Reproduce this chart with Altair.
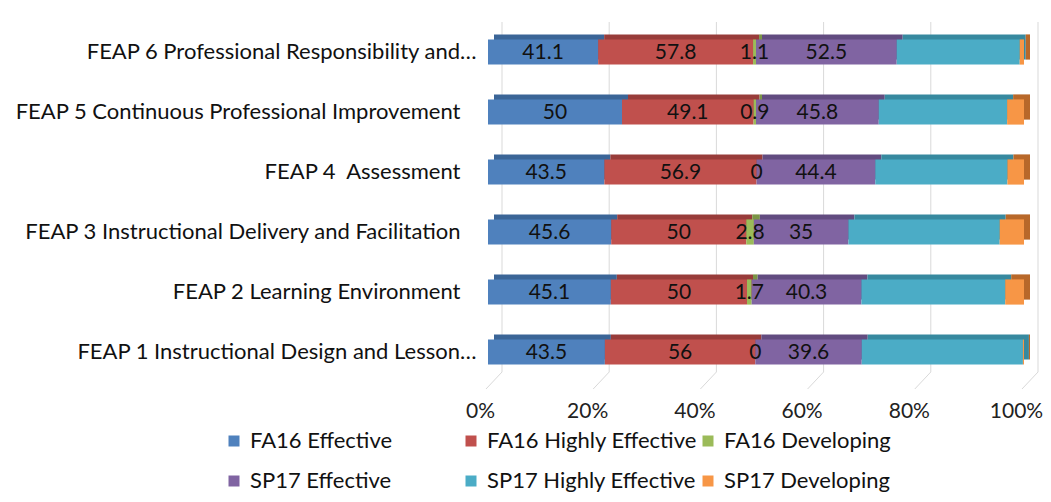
import altair as alt
import pandas as pd

categories = [
    "FEAP 6 Professional Responsibility and…",
    "FEAP 5 Continuous Professional Improvement",
    "FEAP 4 \u00a0Assessment",
    "FEAP 3 Instructional Delivery and Facilitation",
    "FEAP 2 Learning Environment",
    "FEAP 1 Instructional Design and Lesson…",
]
series = ["FA16 Effective", "FA16 Highly Effective", "FA16 Developing",
          "SP17 Effective", "SP17 Highly Effective", "SP17 Developing"]

fa16_effective = [41.1, 50, 43.5, 45.6, 45.1, 43.5]
fa16_highly_effective = [57.8, 49.1, 56.9, 50, 50, 56]
fa16_developing = [1.1, 0.9, 0, 2.8, 1.7, 0]
sp17_effective = [52.5, 45.8, 44.4, 35, 40.3, 39.6]
sp17_highly_effective = [45.9, 47.9, 49.4, 56.0, 52.8, 60.0]
sp17_developing = [1.6, 6.3, 6.2, 9.0, 6.9, 0.4]

colors = ["#4F81BD", "#C0504D", "#9BBB59", "#8064A2", "#4BACC6", "#F79646"]
dark_colors = ["#3B6597", "#983C3A", "#7A9545", "#624C80", "#37899F", "#B8682A"]
ticks = [0, 0.2, 0.4, 0.6, 0.8, 1.0]

FONT = "Lato"
FS = 22
FS_DATA = 21

values = [fa16_effective, fa16_highly_effective, fa16_developing,
          sp17_effective, sp17_highly_effective, sp17_developing]
rows = []
for s_i, (s, vals) in enumerate(zip(series, values)):
    for c, v in zip(categories, vals):
        rows.append({"category": c, "series": s, "order": s_i, "value": v,
                     "label": f"{v:g}"})
df = pd.DataFrame(rows)
grid_df = pd.DataFrame({"tick": ticks})

xscale = alt.Scale(domain=[0, 1])
yscale = alt.Scale(paddingInner=0.58, paddingOuter=0.29)

xaxis = alt.Axis(format="%", values=ticks, grid=False, domain=False, ticks=False,
                 labelFontSize=21, labelFont=FONT, labelColor="#222222",
                 labelPadding=18, labelFlush=False, labelOffset=-8)
yaxis = alt.Axis(domain=False, ticks=False, labelFontSize=FS, labelFont=FONT,
                 labelColor="#111111", labelLimit=600,
                 labelPadding={"condition": {"test": "indexof(datum.value, '…') >= 0",
                                             "value": 12},
                               "value": 28})

base = alt.Chart(df).transform_stack(
    stack="value", groupby=["category"], as_=["x0", "x1"], offset="normalize",
    sort=[alt.SortField("order")]
)

grid_v = alt.Chart(grid_df).mark_rule(color="#d9d9d9", strokeWidth=1,
                                      xOffset=14, x2Offset=14).encode(
    x=alt.X("tick:Q", scale=xscale, title=None, axis=xaxis),
    x2="tick:Q",
    y=alt.value(0), y2=alt.value(350),
)
grid_d = alt.Chart(grid_df).mark_rule(color="#d9d9d9", strokeWidth=1,
                                      xOffset=14, x2Offset=-2).encode(
    x=alt.X("tick:Q", scale=xscale, title=None, axis=xaxis),
    x2="tick:Q",
    y=alt.value(350), y2=alt.value(367),
)

back = base.mark_bar(xOffset=6, x2Offset=6, yOffset=-5, y2Offset=-5).encode(
    x=alt.X("x0:Q", scale=xscale, title=None, axis=xaxis),
    x2="x1:Q",
    y=alt.Y("category:N", sort=categories, scale=yscale, title=None, axis=yaxis),
    color=alt.Color("series:N", scale=alt.Scale(domain=series, range=dark_colors), legend=None),
    order=alt.Order("order:Q"),
)

front = base.mark_bar().encode(
    x=alt.X("x0:Q", scale=xscale, title=None, axis=xaxis),
    x2="x1:Q",
    y=alt.Y("category:N", sort=categories, scale=yscale, title=None, axis=yaxis),
    color=alt.Color("series:N", scale=alt.Scale(domain=series, range=colors), title=None,
                    legend=alt.Legend(orient="none", legendX=-265, legendY=408,
                                      direction="horizontal", columns=3, gridAlign="all",
                                      symbolType="square", symbolSize=121,
                                      symbolStrokeWidth=0, labelFontSize=FS,
                                      labelFont=FONT, labelColor="#111111",
                                      labelOffset=5, columnPadding=-8, rowPadding=18,
                                      labelLimit=400)),
    order=alt.Order("order:Q"),
)

labels = base.transform_calculate(mid="(datum.x0 + datum.x1) / 2").transform_filter(
    "datum.order < 4"
).mark_text(fontSize=FS_DATA, font=FONT, color="#111111", baseline="middle", dy=1).encode(
    x=alt.X("mid:Q", scale=xscale, title=None, axis=xaxis),
    y=alt.Y("category:N", sort=categories, scale=yscale, title=None, axis=yaxis),
    text="label:N",
)

chart = alt.layer(grid_v, grid_d, back, front, labels).resolve_scale(
    color="independent"
).properties(
    width=536, height=360,
    autosize=alt.AutoSizeParams(type="none"),
    padding={"left": 480, "top": 14, "right": 19, "bottom": 112},
    background="white",
).configure_view(stroke=None)

chart.save("out.html", embed_options={"renderer": "svg", "actions": False})
